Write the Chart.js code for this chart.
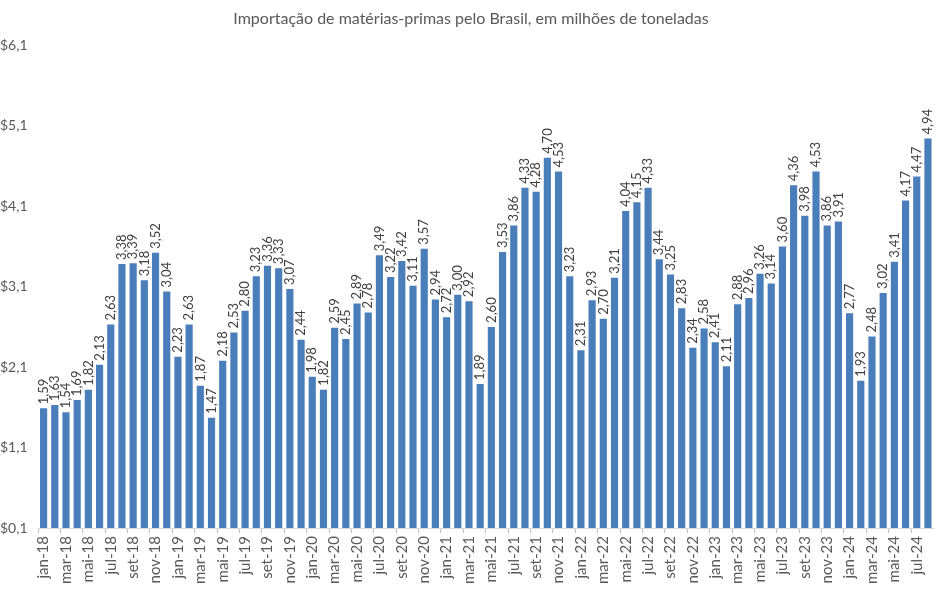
<!DOCTYPE html>
<html>
<head>
<meta charset="utf-8">
<script src="https://cdn.jsdelivr.net/npm/chart.js@4"></script>
<style>
html,body{margin:0;padding:0;background:#fff;}
#wrap{width:949px;height:591px;position:relative;}
</style>
</head>
<body>
<div id="wrap"><canvas id="c" width="949" height="591"></canvas></div>
<script>
const months = ['jan','fev','mar','abr','mai','jun','jul','ago','set','out','nov','dez'];
const years = ['18','19','20','21','22','23','24'];
const categories = [];
years.forEach(y => months.forEach(m => categories.push(m + '-' + y)));
categories.length = 80; // jan-18 .. ago-24

const values2018 = [1.59,1.63,1.54,1.69,1.82,2.13,2.63,3.38,3.39,3.18,3.52,3.04];
const values2019 = [2.23,2.63,1.87,1.47,2.18,2.53,2.80,3.23,3.36,3.33,3.07,2.44];
const values2020 = [1.98,1.82,2.59,2.45,2.89,2.78,3.49,3.22,3.42,3.11,3.57,2.94];
const values2021 = [2.72,3.00,2.92,1.89,2.60,3.53,3.86,4.33,4.28,4.70,4.53,3.23];
const values2022 = [2.31,2.93,2.70,3.21,4.04,4.15,4.33,3.44,3.25,2.83,2.34,2.58];
const values2023 = [2.41,2.11,2.88,2.96,3.26,3.14,3.60,4.36,3.98,4.53,3.86,3.91];
const values2024 = [2.77,1.93,2.48,3.02,3.41,4.17,4.47,4.94];
const series = [].concat(values2018, values2019, values2020, values2021, values2022, values2023, values2024);

const yTicks = [0.1,1.1,2.1,3.1,4.1,5.1,6.1];
const title = 'Importação de matérias-primas pelo Brasil, em milhões de toneladas';

const fmt = v => v.toFixed(2).replace('.', ',');
const FONT = 'Lato, "Open Sans", sans-serif';

const labelPlugin = {
  id: 'barLabels',
  afterDatasetsDraw(chart) {
    const ctx = chart.ctx;
    const meta = chart.getDatasetMeta(0);
    ctx.save();
    ctx.font = '13px ' + FONT;
    ctx.fillStyle = '#404040';
    ctx.textAlign = 'left';
    ctx.textBaseline = 'middle';
    meta.data.forEach((bar, i) => {
      ctx.save();
      ctx.translate(bar.x, bar.y - 4);
      ctx.rotate(-Math.PI / 2);
      ctx.fillText(fmt(series[i]), 0, 0);
      ctx.restore();
    });
    ctx.restore();
  }
};

new Chart(document.getElementById('c'), {
  type: 'bar',
  data: {
    labels: categories,
    datasets: [{
      data: series,
      backgroundColor: '#4a7ebb',
      borderWidth: 0,
      barPercentage: 0.64,
      categoryPercentage: 1.0
    }]
  },
  options: {
    responsive: false,
    animation: false,
    layout: { padding: { left: 0, right: 7, top: 0, bottom: 4 } },
    plugins: {
      legend: { display: false },
      tooltip: { enabled: false },
      title: {
        display: true,
        text: title,
        color: '#595959',
        font: { family: FONT, size: 16, weight: 'normal' },
        padding: { top: 9, bottom: 17 }
      }
    },
    scales: {
      x: {
        offset: true,
        grid: {
          display: true, drawOnChartArea: false, drawTicks: true, tickLength: 5, offset: true,
          color: c => (c.index % 2 === 0 ? '#bfbfbf' : 'rgba(0,0,0,0)')
        },
        border: { display: true, color: '#d9d9d9' },
        ticks: {
          autoSkip: false,
          minRotation: 90,
          maxRotation: 90,
          color: '#595959',
          font: { family: FONT, size: 15 },
          padding: 3,
          callback: function(val, idx) { return idx % 2 === 0 ? categories[idx] : ''; }
        }
      },
      y: {
        min: 0.1,
        max: 6.1,
        grid: { display: false },
        border: { display: false },
        afterBuildTicks: s => { s.ticks = yTicks.map(v => ({ value: v })); },
        afterFit: s => { s.width = 38; },
        ticks: {
          color: '#595959',
          font: { family: FONT, size: 14 },
          padding: 4,
          crossAlign: 'far',
          callback: v => '$' + Number(v).toFixed(1).replace('.', ',')
        }
      }
    }
  },
  plugins: [labelPlugin]
});
</script>
</body>
</html>
